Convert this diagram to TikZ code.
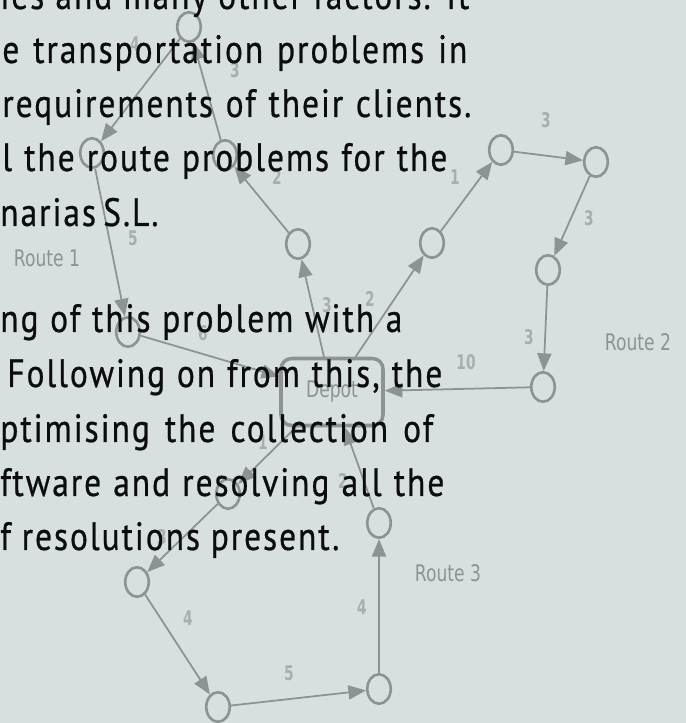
\documentclass[tikz,border=0pt]{standalone}
\usepackage{fontspec}
\usepackage{xcolor}
\usetikzlibrary{arrows.meta,shapes.geometric}
\setmainfont{PT Sans}
\newfontfamily\bodyfont[FakeStretch=0.845,LetterSpace=5,FakeBold=0.6]{PT Sans}
\newfontfamily\graphfont[FakeStretch=0.75]{DejaVu Sans}
\newfontfamily\weightfont[FakeStretch=0.68]{DejaVu Sans}
\definecolor{bgblue}{RGB}{215,223,225}
\definecolor{edgegray}{RGB}{141,147,148}
\definecolor{wtgray}{RGB}{168,174,175}
\definecolor{inkblack}{RGB}{12,12,12}

\begin{document}
\begin{tikzpicture}[
	>={Triangle[length=10pt,width=8pt]},
	client/.style={draw=edgegray, line width=1.5pt, ellipse, minimum width=0.47cm, minimum height=0.59cm, inner sep=0pt},
	depot/.style={draw=edgegray, line width=2pt, rounded corners=6pt, minimum width=2.04cm, minimum height=1.34cm, inner sep=0pt, text=edgegray, font=\graphfont\fontsize{13}{15}\selectfont},
	link/.style={->, draw=edgegray, fill=edgegray, line width=1pt},
	wt/.style={text=wtgray, inner sep=0pt, font=\weightfont\bfseries\fontsize{11.5}{12}\selectfont},
	route/.style={text=edgegray, inner sep=0pt, font=\graphfont\fontsize{13}{15}\selectfont},
	para/.style={anchor=base west, inner sep=0pt, text=inkblack, font=\bodyfont\fontsize{22.5}{31}\selectfont}
	]
				\clip (0,0) rectangle (13.72,14.46);
				\fill[bgblue] (0,0) rectangle (13.72,14.46);
				% route 1
				\node[client] (a) at (3.78,13.92) {};
				\node[client] (b) at (1.84,11.40) {};
				\node[client] (c) at (4.50,11.36) {};
				\node[client] (d) at (5.96,9.58) {};
				\node[client] (j) at (2.56,7.82) {};
				\node[depot] (dep) at (6.64,6.62) {Depot};
				% route 2
				\node[client] (g) at (8.64,9.60) {};
				\node[client] (e) at (10.02,11.46) {};
				\node[client] (f) at (11.92,11.22) {};
				\node[client] (h) at (10.96,9.06) {};
				\node[client] (i) at (10.86,6.72) {};
				% route 3
				\node[client] (k) at (4.56,4.58) {};
				\node[client] (l) at (2.74,2.82) {};
				\node[client] (m) at (4.36,0.32) {};
				\node[client] (n) at (7.58,0.68) {};
				\node[client] (o) at (7.58,4.00) {};
				\draw[link] (dep) -- (d);
				\draw[link] (d) -- (c);
				\draw[link] (c) -- (a);
				\draw[link] (a) -- (b);
				\draw[link] (b) -- (j);
				\draw[link] (j) -- (dep);
				\draw[link] (dep) -- (g);
				\draw[link] (g) -- (e);
				\draw[link] (e) -- (f);
				\draw[link] (f) -- (h);
				\draw[link] (h) -- (i);
				\draw[link] (i) -- (dep);
				\draw[link] (dep) -- (k);
				\draw[link] (k) -- (l);
				\draw[link] (l) -- (m);
				\draw[link] (m) -- (n);
				\draw[link] (n) -- (o);
				\draw[link] (o) -- (dep);
				% weights
				\node[wt] (w1) at (2.70,13.58) {4};
				\node[wt] (w2) at (4.70,13.06) {3};
				\node[wt] (w3) at (5.54,10.92) {2};
				\node[wt] (w4) at (6.54,8.36) {3};
				\node[wt] (w5) at (2.66,9.70) {5};
				\node[wt] (w6) at (4.06,7.80) {6};
				\node[wt] (w7) at (7.40,8.48) {2};
				\node[wt] (w8) at (9.10,10.92) {1};
				\node[wt] (w9) at (10.92,12.06) {3};
				\node[wt] (w10) at (11.78,10.10) {3};
				\node[wt] (w11) at (10.58,7.72) {3};
				\node[wt] (w12) at (9.32,7.22) {10};
				\node[wt] (w13) at (5.26,5.62) {1};
				\node[wt] (w14) at (3.24,3.72) {3};
				\node[wt] (w15) at (3.76,2.10) {4};
				\node[wt] (w16) at (5.78,1.00) {5};
				\node[wt] (w17) at (7.24,2.32) {4};
				\node[wt] (w18) at (6.86,4.84) {2};
				\node[route] (r1) at (0.94,9.30) {Route 1};
				\node[route] (r2) at (12.76,7.62) {Route 2};
				\node[route] (r3) at (8.96,3.00) {Route 3};
				% text on top
				\node[para] (t1) at (0.00,14.28) {\makebox[9.38cm][s]{ies and many other factors. It}};
				\node[para] (t2) at (0.04,13.20) {\makebox[9.30cm][s]{e transportation problems in}};
				\node[para] (t3) at (0.04,12.12) {\makebox[9.38cm][s]{requirements of their clients.}};
				\node[para] (t4) at (0.04,11.04) {\makebox[8.90cm][s]{l the route problems for the}};
				\node[para] (t5) at (0.00,9.94) {\makebox[3.16cm][s]{narias S.L.}};
				\node[para] (t6) at (0.00,7.82) {\makebox[8.04cm][s]{ng of this problem with a}};
				\node[para] (t7) at (0.14,6.72) {\makebox[8.70cm][s]{Following on from this, the}};
				\node[para] (t8) at (0.00,5.62) {\makebox[8.66cm][s]{ptimising the collection of}};
				\node[para] (t9) at (0.00,4.54) {\makebox[8.88cm][s]{ftware and resolving all the}};
				\node[para] (t10) at (0.00,3.46) {\makebox[6.78cm][s]{f resolutions present.}};
			\end{tikzpicture}
\end{document}
